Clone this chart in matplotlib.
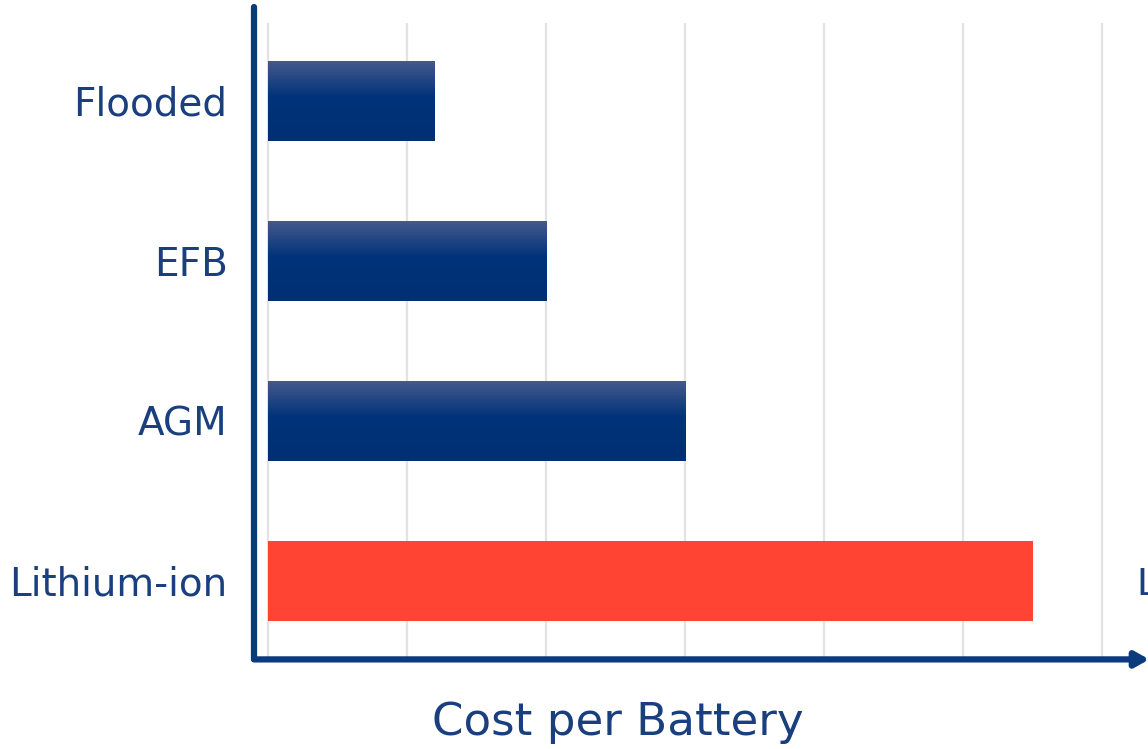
import numpy as np
import matplotlib
matplotlib.use("Agg")
import matplotlib.pyplot as plt
from matplotlib.colors import LinearSegmentedColormap

# battery types and relative cost
categories = ["Flooded", "EFB", "AGM", "Lithium-ion"]
costs = [1.2, 2.0, 3.0, 5.5]
highlight = "Lithium-ion"

navy = "#0b3b7c"
text_col = "#1a3f7f"
red = "#ff4433"
grid_col = "#e3e3e3"

plt.rcParams["font.family"] = ["DejaVu Sans"]

fig = plt.figure(figsize=(11.48, 7.49), dpi=100)
ax = fig.add_axes([254 / 1148, 0, 894 / 1148, 1])

# vertical gradient for the blue bars: lighter at the top, solid below
grad = LinearSegmentedColormap.from_list(
    "bar", [(0.0, "#46598b"), (0.45, "#00337a"), (1.0, "#002f72")])
gimg = np.linspace(0, 1, 200).reshape(-1, 1)

ypos = np.arange(len(categories))
h = 0.5
for y, c, v in zip(ypos, categories, costs):
    if c == highlight:
        ax.barh(y, v, height=h, color=red, zorder=3)
    else:
        b = ax.barh(y, v, height=h, color="none", zorder=3)[0]
        x0, y0, w, hh = b.get_x(), b.get_y(), b.get_width(), b.get_height()
        ax.imshow(gimg, cmap=grad, aspect="auto", origin="upper",
                  extent=[x0, x0 + w, y0 + hh, y0], zorder=3)

# grid
for gx in range(7):
    ax.plot([gx, gx], [-0.49, 3.5], color=grid_col, lw=1.6, zorder=1,
            solid_capstyle="butt")

xmin = -14 / 139
ax.set_xlim(xmin, (1148 - 268) / 139)
ax.set_ylim((749 - 101) / 160, -101 / 160)

# axis lines
ax.plot([xmin, xmin], [-0.59, 3.49], color=navy, lw=4.5,
        solid_capstyle="round", zorder=4, clip_on=False)
ax.annotate("", xy=(6.34, 3.49), xytext=(xmin, 3.49),
            arrowprops=dict(arrowstyle="-|>,head_length=0.8,head_width=0.45",
                            color=navy, lw=4.5, shrinkA=0, shrinkB=0,
                            capstyle="round"),
            zorder=4, annotation_clip=False)

ax.set_yticks(ypos)
ax.set_yticklabels(categories, fontsize=28, color=text_col, va="center_baseline")
ax.tick_params(axis="y", length=0, pad=19)
ax.set_xticks([])
for s in ax.spines.values():
    s.set_visible(False)

ax.text(6.25, 3.0, "L", fontsize=27, color=text_col, ha="left",
        va="center_baseline")

fig.text(618 / 1148, 1 - 722 / 749, "Cost per Battery", fontsize=32.5,
         color=text_col, ha="center", va="center")

fig.savefig("out.png", dpi=100)
